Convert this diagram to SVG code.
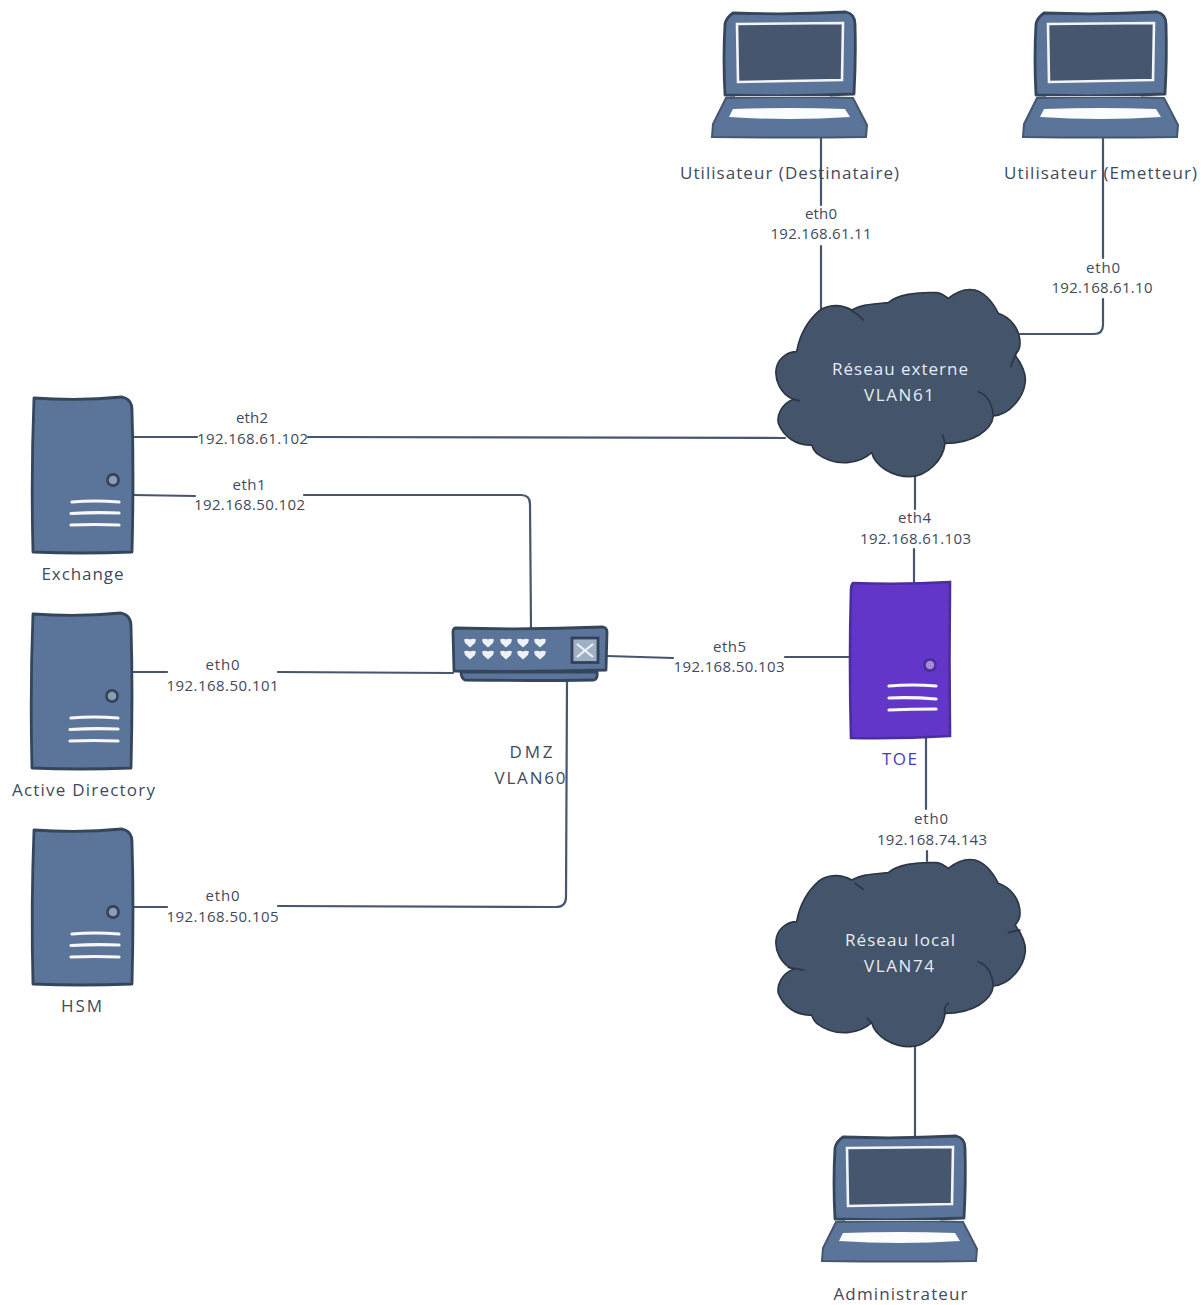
<svg xmlns="http://www.w3.org/2000/svg" xmlns:xlink="http://www.w3.org/1999/xlink" width="1204" height="1305" viewBox="0 0 1204 1305">
<style>
text{font-family:"Open Sans","Noto Sans","Liberation Sans",sans-serif;text-anchor:middle;fill:#3f4a5c}
.n{font-size:17px}
.e{font-size:15px}
.c{font-size:17px;fill:#e6edf5}
.t{fill:#5236b8}
.w{fill:none;stroke:#46566c;stroke-width:2.200;stroke-linecap:round;stroke-linejoin:round}
.b{fill:#5b7499;stroke:#36465a;stroke-width:2.800;stroke-linejoin:round}
.cl{fill:#44546a;stroke:#2b3544;stroke-width:5;stroke-linejoin:round}
.tk{fill:none;stroke:#2b3544;stroke-width:5;stroke-linecap:round}
.l{fill:none;stroke:#f7f8fa;stroke-width:3.200;stroke-linecap:round}
</style>
<defs>
<g id="laptop">
<path class="b" d="M733,13 Q790,15 846,12 Q855,14 855,24 Q856,58 854,94 Q790,97 725,95 Q723,58 725,24 Q726,18 733,13Z"/>
<path d="M737,24 L843,23 L842,80 L738,82Z" fill="#46566e" stroke="#f2f4f8" stroke-width="2.600"/>
<path d="M726,98 Q790,96 853,98 L867,125 L866,137 Q790,138 712,137 L713,124Z" fill="#5b7499" stroke="#46566c" stroke-width="2"/>
<path d="M733,109 Q790,107 845,109 L850,117 Q790,121 729,117Z" fill="#fbfcfd"/>
<path d="M735,96.500 H830" stroke="#c8d0da" stroke-width="1"/>
</g>
<g id="server">
<path class="b" d="M34,398 Q80,401 122,397 Q132,399 132,410 Q134,475 132,552 Q80,554 33,552 Q31,475 34,398Z"/>
<circle cx="113" cy="480" r="5.600" fill="#8a9db5" stroke="#33425a" stroke-width="2.600"/>
<path class="l" d="M72,502 Q95,500 119,502M71,513.500 Q95,512 119,513M71,525 Q95,524 119,525"/>
</g>
<path id="cloud" class="cl" d="M178,92 C205,72 245,72 275,90 C305,72 345,72 385,68 C410,45 470,35 530,38 C545,40 555,48 565,55 C590,35 620,25 645,30 C680,40 700,70 715,100 C750,112 780,145 780,190 C780,205 772,218 765,225 C785,250 800,285 795,310 C790,350 750,405 700,408 C695,450 640,490 555,490 C550,540 500,590 450,590 C400,590 345,560 335,518 C300,550 230,565 170,520 C162,512 158,505 155,495 C110,498 70,470 55,430 C50,405 65,372 100,358 C65,345 40,300 50,260 C58,232 85,215 110,215 C118,170 140,125 178,92Z"/>
<path id="p" d="M-6,-3.500 Q-3,-5 0,-3.500 Q3,-5 6,-3.500 L5,0 L0,4.500 L-5,0Z" fill="#eef2f6"/>
</defs>

<g id="connectors">
<path class="w" d="M821,138 V205M821,246 V312"/>
<path class="w" d="M1103,138 V258M1103,299 V325 Q1103,334 1094,334 H1020"/>
<path class="w" d="M133,437 H197M308,437 L785,438"/>
<path class="w" d="M133,495 L195,496M304,495 L521,495 Q530,495 530,504 L531,628"/>
<path class="w" d="M133,672 H167M278,672 L453,673"/>
<path class="w" d="M133,907 H167M278,906 L556,907 Q566,907 566,897 L567,680"/>
<path class="w" d="M607,656 L673,658M785,657 H851"/>
<path class="w" d="M915,476 V509M914,549 V582"/>
<path class="w" d="M926,738 V809M927,851 V861"/>
<path class="w" d="M915,1045 V1136"/>
</g>

<g id="laptop-destinataire"><use href="#laptop"/><text class="n" x="789.500" y="179" textLength="219">Utilisateur (Destinataire)</text></g>
<g id="laptop-emetteur"><use href="#laptop" x="311"/><text class="n" x="1100.500" y="179" textLength="193">Utilisateur (Emetteur)</text></g>
<g id="laptop-administrateur"><use href="#laptop" x="110" y="1124"/><text class="n" x="900.500" y="1300" textLength="134">Administrateur</text></g>

<g id="server-exchange"><use href="#server"/><text class="n" x="82.500" y="580" textLength="82">Exchange</text></g>
<g id="server-ad"><use href="#server" x="-1" y="216"/><text class="n" x="83.500" y="796" textLength="143">Active Directory</text></g>
<g id="server-hsm"><use href="#server" y="432"/><text class="n" x="81.500" y="1012" textLength="41">HSM</text></g>

<g id="toe">
<path d="M853,583 Q900,585 950,582 Q949,660 950,736 Q900,739 851,738 Q849,660 851,590 Q851,585 853,583Z" fill="#6236c8" stroke="#4a2e9c" stroke-width="2.600"/>
<circle cx="930" cy="665" r="5.600" fill="#a88ad8" stroke="#4a2e9c" stroke-width="2.600"/>
<path class="l" d="M889,686 Q912,684 936,686M889,698 Q912,697 936,699M889,710 Q912,709 936,709"/>
<text class="n t" x="899.500" y="765" textLength="35">TOE</text>
</g>

<g id="switch">
<path class="b" d="M455,628 Q530,630 603,627 Q607,628 607,632 L606,670 Q530,672 454,671 L453,632 Q453,629 455,628Z"/>
<path class="b" d="M461,672 H597 Q598,679 594,680 Q530,681 465,680 Q461,678 461,672Z"/>
<rect x="572" y="638" width="26" height="24.500" fill="#9fb0c6" stroke="#33425a" stroke-width="2.800"/>
<path d="M577,644 L593,657M593,644 L577,657" stroke="#eef2f6" stroke-width="2.200" fill="none"/>
<use href="#p" x="470" y="643"/><use href="#p" x="488" y="643"/><use href="#p" x="506" y="643"/><use href="#p" x="523" y="643"/><use href="#p" x="540" y="643"/>
<use href="#p" x="470" y="655"/><use href="#p" x="488" y="655"/><use href="#p" x="506" y="655"/><use href="#p" x="523" y="655"/><use href="#p" x="540" y="655"/>
<text class="n" x="531" y="758" textLength="43">DMZ</text>
<text class="n" x="530" y="784" textLength="71">VLAN60</text>
</g>

<g id="cloud-externe">
<g transform="translate(760,280) scale(.33333)"><use href="#cloud"/>
<path class="tk" d="M275,92 Q295,102 310,120M770,215 L752,260M655,335 Q695,350 700,408M548,465 L555,490M100,358 L118,362"/></g>
<text class="c" x="900" y="375" textLength="136">Réseau externe</text>
<text class="c" x="899" y="401" textLength="70">VLAN61</text>
</g>
<g id="cloud-local">
<g transform="translate(760,850) scale(.33333)"><use href="#cloud"/>
<path class="tk" d="M285,100 L310,118M780,240 L745,248M655,335 Q695,350 700,408M565,460 Q550,470 555,490M322,505 Q328,513 335,518M85,352 L130,360"/></g>
<text class="c" x="900" y="946" textLength="110">Réseau local</text>
<text class="c" x="899" y="972" textLength="70">VLAN74</text>
</g>

<g id="labels">
<text class="e" x="821" y="219" textLength="32">eth0</text><text class="e" x="821" y="239" textLength="101">192.168.61.11</text>
<text class="e" x="1103" y="273" textLength="34">eth0</text><text class="e" x="1102" y="293" textLength="101">192.168.61.10</text>
<text class="e" x="252" y="423" textLength="32">eth2</text><text class="e" x="252.500" y="444" textLength="111">192.168.61.102</text>
<text class="e" x="249" y="490" textLength="33">eth1</text><text class="e" x="249.500" y="510" textLength="111">192.168.50.102</text>
<text class="e" x="222.500" y="670" textLength="34">eth0</text><text class="e" x="222.500" y="691" textLength="112">192.168.50.101</text>
<text class="e" x="222.500" y="901" textLength="34">eth0</text><text class="e" x="222.500" y="922" textLength="112">192.168.50.105</text>
<text class="e" x="729.500" y="651.500" textLength="33">eth5</text><text class="e" x="729" y="671.500" textLength="111">192.168.50.103</text>
<text class="e" x="914.500" y="523" textLength="33">eth4</text><text class="e" x="915.500" y="544" textLength="111">192.168.61.103</text>
<text class="e" x="931" y="824" textLength="34">eth0</text><text class="e" x="932" y="845" textLength="110">192.168.74.143</text>
</g>
</svg>
